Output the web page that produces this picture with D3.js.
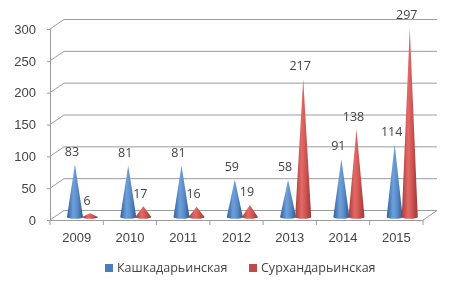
<!DOCTYPE html>
<html>
<head>
<meta charset="utf-8">
<script src="https://d3js.org/d3.v7.min.js"></script>
<style>
  body { margin: 0; background: #fff; }
  svg { filter: blur(0.35px); }
  text { font-family: "Open Sans", sans-serif; fill: #444; }
</style>
</head>
<body>
<div id="chart"></div>
<script>
const years = ["2009", "2010", "2011", "2012", "2013", "2014", "2015"];
const kashkadarya = [83, 81, 81, 59, 58, 91, 114];
const surkhandarya = [6, 17, 16, 19, 217, 138, 297];
const seriesNames = ["Кашкадарьинская", "Сурхандарьинская"];
const yTicks = [0, 50, 100, 150, 200, 250, 300];

const width = 476, height = 289;
const depthX = 14, depthY = -9.5; // décalage du fond 3D

const svg = d3.select("#chart").append("svg")
  .attr("width", width)
  .attr("height", height);

const x = d3.scaleBand().domain(years).range([50, 423]);
const y = d3.scaleLinear().domain([0, 300]).range([220, 29]);

// Dégradés des cônes
const defs = svg.append("defs");
const gradients = [
  { id: "cone-blue", stops: ["#2f5f9c", "#6ea0dc", "#5a8cc8", "#2c5a94"] },
  { id: "cone-red", stops: ["#a83c3a", "#e46a68", "#cf5452", "#a03634"] }
];
gradients.forEach(g => {
  const lg = defs.append("linearGradient").attr("id", g.id);
  g.stops.forEach((c, i) => {
    lg.append("stop").attr("offset", [0, 0.4, 0.65, 1][i]).attr("stop-color", c);
  });
});

// Murs et plancher
const grid = svg.append("g").attr("fill", "none").attr("stroke", "#9c9c9c");
grid.selectAll("path.wall")
  .data(yTicks)
  .enter()
  .append("path")
  .attr("class", "wall")
  .attr("d", d => `M50,${y(d)}L${50 + depthX},${y(d) + depthY}H${423 + depthX}`);
grid.append("path")
  .attr("d", `M423,${y(0)}L${423 + depthX},${y(0) + depthY}`);

// Axes
const yAxis = svg.append("g")
  .attr("transform", "translate(50,0)")
  .call(d3.axisLeft(y).tickValues(yTicks).tickSize(3).tickPadding(11));
yAxis.selectAll("text").attr("font-size", 13).style("font-family", "inherit");

const xAxis = svg.append("g")
  .attr("transform", `translate(0,${y(0)})`)
  .call(d3.axisBottom(x).tickSize(0).tickPadding(13));
xAxis.selectAll("text").attr("font-size", 13).style("font-family", "inherit");
svg.selectAll(".domain").attr("stroke", "#9c9c9c");
yAxis.selectAll("line").attr("stroke", "#9c9c9c");

// Graduations entre les années
svg.append("g").selectAll("line")
  .data(years.concat("end"))
  .enter()
  .append("line")
  .attr("x1", d => d === "end" ? x.range()[1] : x(d))
  .attr("x2", d => d === "end" ? x.range()[1] : x(d))
  .attr("y1", y(0))
  .attr("y2", y(0) + 5)
  .attr("stroke", "#9c9c9c");

// Cônes
const baseY = y(0) - 3;
const radius = 8;
function drawSeries(values, offset, fill) {
  const g = svg.append("g");
  values.forEach((v, i) => {
    const cx = x(years[i]) + x.bandwidth() / 2 + offset;
    const tip = baseY - (y(0) - y(v));
    g.append("path")
      .attr("fill", `url(#${fill})`)
      .attr("d", `M${cx - radius},${baseY}L${cx},${tip}L${cx + radius},${baseY}A${radius},1.8 0 0 1 ${cx - radius},${baseY}Z`);
    g.append("text")
      .attr("x", cx - 3)
      .attr("y", tip - 13)
      .attr("dy", "0.35em")
      .attr("text-anchor", "middle")
      .attr("font-size", 12.5)
      .text(v);
  });
}
drawSeries(kashkadarya, -1.7, "cone-blue");
drawSeries(surkhandarya, 13.4, "cone-red");

// Légende
const legendX = [105, 249];
const legendColors = ["#4a7ebb", "#be4b48"];
seriesNames.forEach((name, i) => {
  svg.append("rect")
    .attr("x", legendX[i])
    .attr("y", 264)
    .attr("width", 8)
    .attr("height", 8)
    .attr("fill", legendColors[i]);
  svg.append("text")
    .attr("x", legendX[i] + 12)
    .attr("y", 267.5)
    .attr("dy", "0.35em")
    .attr("font-size", 12.5)
    .text(name);
});
</script>
</body>
</html>
